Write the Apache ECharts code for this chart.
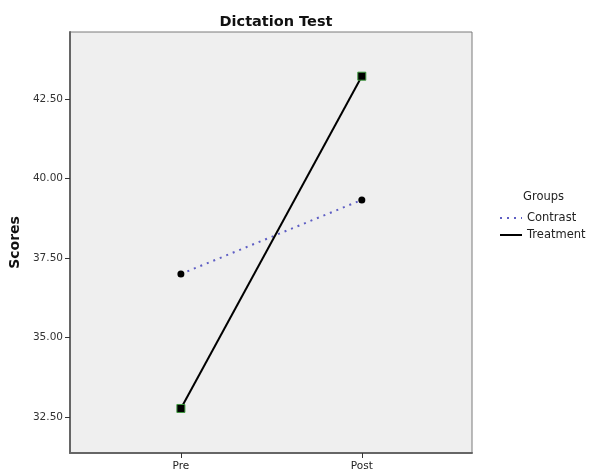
<!DOCTYPE html>
<html><head><meta charset="utf-8">
<script src="https://cdn.jsdelivr.net/npm/echarts@6/dist/echarts.min.js"></script>
<style>html,body{margin:0;padding:0;background:#fff}#c{width:591px;height:472px}</style>
</head><body><div id="c"></div>
<script>
const categories = ['Pre', 'Post'];
const contrastScores = [37.0, 39.33];
const treatmentScores = [32.77, 43.22];
const yTicks = [32.5, 35.0, 37.5, 40.0, 42.5];
const catIdx = [0, 1];

const FONT = 'DejaVu Sans';
const chart = echarts.init(document.getElementById('c'));
chart.setOption({
  animation: false,
  textStyle: { fontFamily: FONT },
  title: [
    { text: 'Dictation Test', left: 271, top: 10, textAlign: 'center',
      textStyle: { fontFamily: FONT, fontSize: 14.5, fontWeight: 'bold', color: '#111' } },
    { text: 'Groups', left: 518, top: 186,
      textStyle: { fontFamily: FONT, fontSize: 11.5, fontWeight: 'normal', color: '#222' } }
  ],
  legend: {
    orient: 'vertical', left: 494, top: 207, itemWidth: 22, itemHeight: 10, itemGap: 5,
    textStyle: { fontFamily: FONT, fontSize: 11.5, color: '#222' },
    itemStyle: { opacity: 0 },
    data: ['Contrast', 'Treatment']
  },
  grid: { left: 70, right: 119, top: 32, bottom: 19, show: true, backgroundColor: '#efefef',
          borderColor: '#7a7a7a', borderWidth: 1, outerBoundsMode: 'none', containLabel: false },
  xAxis: {
    type: 'value', min: -0.613, max: 1.609,
    splitLine: { show: false },
    axisLine: { show: true, onZero: false, lineStyle: { color: '#666', width: 2 } },
    axisTick: { show: true, length: 5, customValues: catIdx, lineStyle: { color: '#333', width: 1 } },
    axisLabel: { customValues: catIdx, margin: 8, fontFamily: FONT, fontSize: 10.5, color: '#222',
      formatter: v => categories[Math.round(v)] }
  },
  yAxis: {
    type: 'value', min: 31.37, max: 44.61,
    name: 'Scores', nameLocation: 'middle', nameGap: 46,
    nameTextStyle: { fontFamily: FONT, fontSize: 14, fontWeight: 'bold', color: '#111' },
    splitLine: { show: false },
    axisLine: { show: true, onZero: false, lineStyle: { color: '#666', width: 2 } },
    axisTick: { show: true, length: 5, customValues: yTicks, lineStyle: { color: '#333', width: 1 } },
    axisLabel: { customValues: yTicks, margin: 7, fontFamily: FONT, fontSize: 10.5, color: '#333',
      formatter: v => v.toFixed(2) }
  },
  series: [
    { name: 'Contrast', type: 'line', data: catIdx.map(i => [i, contrastScores[i]]),
      symbol: 'circle', symbolSize: 7,
      itemStyle: { color: '#000' },
      lineStyle: { color: '#5e5ec4', width: 2, type: [2, 5] } },
    { name: 'Treatment', type: 'line', data: catIdx.map(i => [i, treatmentScores[i]]),
      symbol: 'rect', symbolSize: 8,
      itemStyle: { color: '#000', borderColor: '#3f9a3f', borderWidth: 1 },
      lineStyle: { color: '#000', width: 2 } }
  ]
});
</script></body></html>
